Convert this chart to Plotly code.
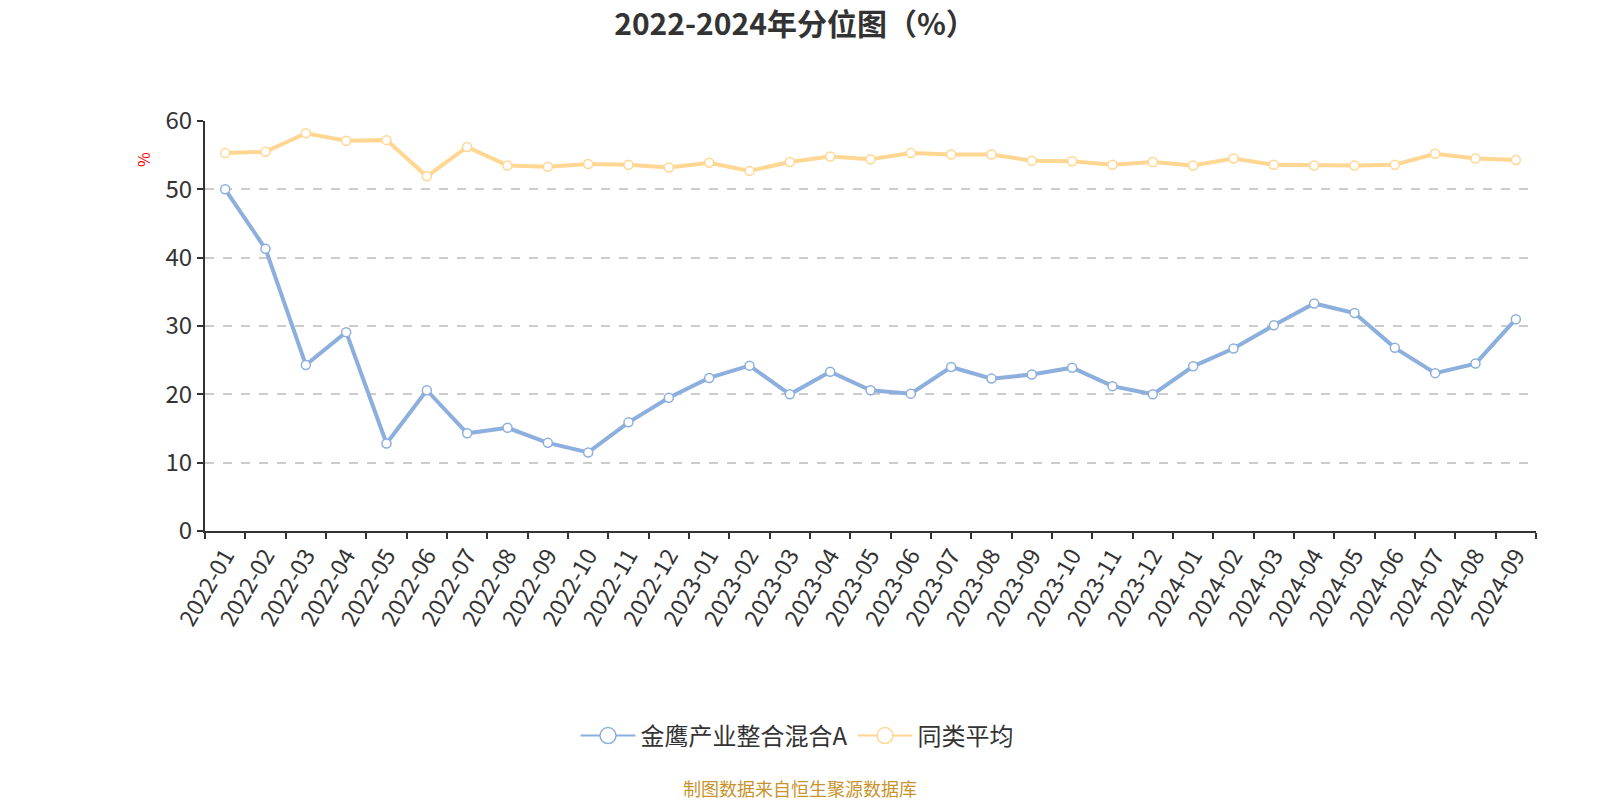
import plotly.graph_objects as go

months = ["2022-01","2022-02","2022-03","2022-04","2022-05","2022-06","2022-07","2022-08","2022-09","2022-10","2022-11","2022-12",
          "2023-01","2023-02","2023-03","2023-04","2023-05","2023-06","2023-07","2023-08","2023-09","2023-10","2023-11","2023-12",
          "2024-01","2024-02","2024-03","2024-04","2024-05","2024-06","2024-07","2024-08","2024-09"]
fund = [50.0, 41.3, 24.3, 29.1, 12.8, 20.6, 14.3, 15.1, 12.9, 11.5, 15.9, 19.5,
        22.4, 24.2, 20.0, 23.3, 20.6, 20.1, 24.0, 22.3, 22.9, 23.9, 21.2, 20.0,
        24.1, 26.7, 30.1, 33.3, 31.9, 26.8, 23.1, 24.5, 31.0]
peer = [55.3, 55.5, 58.2, 57.1, 57.2, 51.9, 56.2, 53.5, 53.3, 53.7, 53.6, 53.2,
        53.9, 52.7, 54.0, 54.8, 54.4, 55.3, 55.1, 55.1, 54.2, 54.1, 53.6, 54.0,
        53.5, 54.5, 53.6, 53.5, 53.5, 53.6, 55.2, 54.5, 54.3]
names = ["金鹰产业整合混合A", "同类平均"]
colors = ["#8cafdd", "#ffd793"]
yticks = [0, 10, 20, 30, 40, 50, 60]

FONT = "Noto Sans CJK SC"
W, H = 1600, 800  # body margin removed below, figure fills the window
L, R, T, B = 205, 64, 121, 269
PW, PH = W - L - R, H - T - B

def px_x(x):  # window pixel -> paper x
    return (x - L) / PW

def px_y(y):  # window pixel -> paper y
    return (H - B - y) / PH

fig = go.Figure()
for name, vals, c in zip(names, [fund, peer], colors):
    fig.add_trace(go.Scatter(
        x=months, y=vals, mode="lines+markers", name=name,
        line=dict(color=c, width=4),
        marker=dict(symbol="circle", size=9, color="white", line=dict(color=c, width=1.5)),
        showlegend=False,
    ))
    fig.add_trace(go.Scatter(
        x=[None], y=[None], mode="lines+markers", name=name,
        line=dict(color=c, width=2),
        marker=dict(symbol="circle", size=22, color="white", line=dict(color=c, width=1.5)),
    ))

fig.update_layout(
    width=W, height=H,
    paper_bgcolor="white", plot_bgcolor="white",
    margin=dict(l=L, r=R, t=T, b=B, autoexpand=False),
    font=dict(family=FONT, color="#333333"),
    title=dict(text="<b>2022-2024年分位图（%）</b>", x=795 / W, xref="container", xanchor="center",
               y=1 - 24 / H, yref="container", yanchor="middle",
               font=dict(size=30, color="#333333", family=FONT)),
    xaxis=dict(type="category", tickson="boundaries", ticks="outside", ticklen=6, tickwidth=2,
               range=[-0.5, len(months) - 0.5], automargin=False,
               tickcolor="#333333", showline=True, linecolor="#333333", linewidth=2,
               showgrid=False, tickangle=-60, tickfont=dict(size=23, color="#333333")),
    yaxis=dict(range=[0, 60], tickvals=yticks, ticks="outside", ticklen=6, tickwidth=2, automargin=False,
               tickcolor="#333333", showline=True, linecolor="#333333", linewidth=2,
               showgrid=True, gridcolor="#cccccc", griddash="dash", gridwidth=1.5,
               zeroline=False, tickfont=dict(size=24, color="#333333")),
    legend=dict(orientation="h", x=797 / W, xref="container", xanchor="center",
                y=1 - 736 / H, yref="container", yanchor="middle",
                font=dict(size=24, color="#333333"), itemwidth=55),
    showlegend=True,
)
fig.add_annotation(text="%", x=px_x(143), y=px_y(160), xref="paper", yref="paper",
                   xanchor="center", yanchor="middle",
                   showarrow=False, textangle=-90, font=dict(size=16, color="red"))
fig.add_annotation(text="制图数据来自恒生聚源数据库", x=px_x(800), y=px_y(788),
                   xref="paper", yref="paper", xanchor="center", yanchor="middle",
                   showarrow=False, font=dict(size=18, color="#c8942d"))
fig.write_html("out.html", config={"displayModeBar": False},
               post_script="document.body.style.margin='0px';")
